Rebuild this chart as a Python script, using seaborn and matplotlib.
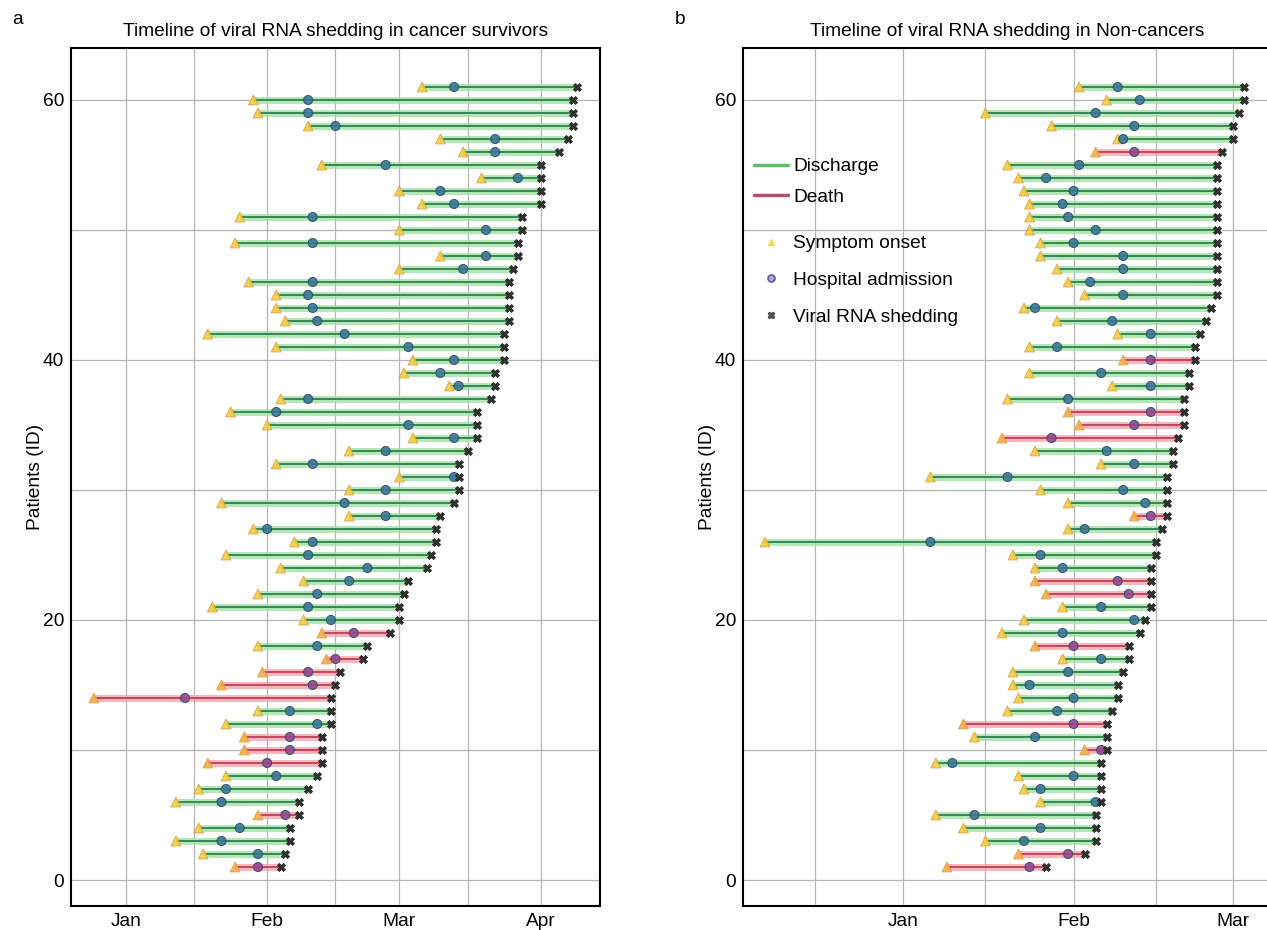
import matplotlib
matplotlib.use("Agg")
import matplotlib.pyplot as plt
import matplotlib.dates as mdates
from matplotlib import font_manager
from matplotlib.lines import Line2D
import seaborn as sns
import numpy as np
import pandas as pd

# Days counted from 2020-01-01 (negative = December 2019), patient IDs 1..61

# == Cancer survivors (panel a) ==
CANCER_ONSET = [24, 17, 11, 16, 29, 11, 16, 22, 18, 26, 26, 22, 29, -7, 21, 30, 44, 29, 43, 39,
                19, 29, 39, 34, 22, 37, 28, 49, 21, 49, 60, 33, 49, 63, 31, 23, 34, 71, 61, 63,
                33, 18, 35, 33, 33, 27, 60, 69, 24, 60, 25, 65, 60, 78, 43, 74, 69, 40, 29, 28, 65]
CANCER_ADMISSION = [29, 29, 21, 25, 35, 21, 22, 33, 31, 36, 36, 42, 36, 13, 41, 40, 46, 42, 50, 45,
                    40, 42, 49, 53, 40, 41, 31, 57, 48, 57, 72, 41, 57, 72, 62, 33, 40, 73, 69, 72,
                    62, 48, 42, 41, 40, 41, 74, 79, 41, 79, 41, 72, 69, 86, 57, 81, 81, 46, 40, 40, 72]
CANCER_SHEDDING = [34, 35, 36, 36, 38, 38, 40, 42, 43, 43, 43, 45, 45, 45, 46, 47, 52, 53, 58, 60,
                   60, 61, 62, 66, 67, 68, 68, 69, 72, 73, 73, 73, 75, 77, 77, 77, 80, 81, 81, 83,
                   83, 83, 84, 84, 84, 84, 85, 86, 86, 87, 87, 91, 91, 91, 91, 95, 97, 98, 98, 98, 99]
CANCER_DEATHS = [1, 5, 9, 10, 11, 14, 15, 16, 17, 19]

# == Non-cancers (panel b) ==
OTHER_ONSET = [8, 21, 15, 11, 6, 25, 22, 21, 6, 33, 13, 11, 19, 21, 20, 20, 29, 24, 18, 22,
               29, 26, 24, 24, 20, -25, 30, 42, 30, 25, 5, 36, 24, 18, 32, 30, 19, 38, 23, 40,
               23, 39, 28, 22, 33, 30, 28, 25, 25, 23, 23, 23, 22, 21, 19, 35, 39, 27, 15, 37, 32]
OTHER_ADMISSION = [23, 30, 22, 25, 13, 35, 25, 31, 9, 36, 24, 31, 28, 31, 23, 30, 36, 31, 29, 42,
                   36, 41, 39, 29, 25, 5, 33, 45, 44, 40, 19, 42, 37, 27, 42, 45, 30, 45, 36, 45,
                   28, 45, 38, 24, 40, 34, 40, 40, 31, 35, 30, 29, 31, 26, 32, 42, 40, 42, 35, 43, 39]
OTHER_SHEDDING = [26, 33, 35, 35, 35, 36, 36, 36, 36, 37, 37, 37, 38, 39, 39, 40, 41, 41, 43, 44,
                  45, 45, 45, 45, 46, 46, 47, 48, 48, 48, 48, 49, 49, 50, 51, 51, 51, 52, 52, 53,
                  53, 54, 55, 56, 57, 57, 57, 57, 57, 57, 57, 57, 57, 57, 57, 58, 60, 60, 61, 62, 62]
OTHER_DEATHS = [1, 2, 10, 12, 18, 22, 23, 28, 34, 35, 36, 40, 56]

TITLES = ["Timeline of viral RNA shedding in cancer survivors",
          "Timeline of viral RNA shedding in Non-cancers"]
PANEL_LABELS = ["a", "b"]
OUTCOMES = ["Discharge", "Death"]
MARKER_LABELS = ["Symptom onset", "Hospital admission", "Viral RNA shedding"]

BASE = pd.Timestamp("2020-01-01")

# colours
LIGHT = {"Discharge": "#9fe3a0", "Death": "#f4a6a8"}
DARK = {"Discharge": "#2f7d52", "Death": "#c23a5e"}
ONSET_COL = {"Discharge": "#f0cf45", "Death": "#f2ad4e"}
ADM_COL = {"Discharge": "#3b7896", "Death": "#97478f"}

sns.set_style("white")
names = {f.name for f in font_manager.fontManager.ttflist}
if "Liberation Sans Narrow" in names:
    FONT, FS = "Liberation Sans Narrow", 16.5
else:
    FONT, FS = "Liberation Sans", 13.8
plt.rcParams["font.family"] = [FONT, "DejaVu Sans"]
plt.rcParams.update({"text.color": "black", "axes.labelcolor": "black",
                     "xtick.color": "black", "ytick.color": "black"})
FS_PX = FS * 100 / 72


def make_frame(onset, admission, shedding, deaths):
    ids = np.arange(1, len(onset) + 1)
    return pd.DataFrame({
        "id": ids,
        "onset": BASE + pd.to_timedelta(onset, unit="D"),
        "admission": BASE + pd.to_timedelta(admission, unit="D"),
        "shedding": BASE + pd.to_timedelta(shedding, unit="D"),
        "outcome": ["Death" if i in deaths else "Discharge" for i in ids],
    })


def draw_panel(ax, df, title, xlim):
    sns.scatterplot(data=df, x="onset", y="id", hue="outcome", palette=ONSET_COL,
                    marker="^", s=50, edgecolor="#e3a23a", linewidth=0.7, alpha=0.9,
                    legend=False, ax=ax, zorder=4)
    sns.scatterplot(data=df, x="admission", y="id", hue="outcome", palette=ADM_COL,
                    marker="o", s=42, edgecolor="#2c4f6e", linewidth=0.8, alpha=0.9,
                    legend=False, ax=ax, zorder=5)
    sns.scatterplot(data=df, x="shedding", y="id", color="#303030", marker="X", s=36,
                    edgecolor="#202020", linewidth=0.4, legend=False, ax=ax, zorder=6)
    for outcome in OUTCOMES:
        sub = df[df.outcome == outcome]
        x0 = mdates.date2num(sub.onset)
        x1 = mdates.date2num(sub.shedding)
        ax.hlines(sub.id, x0, x1, colors=LIGHT[outcome], lw=5, alpha=0.8, zorder=2)
        ax.hlines(sub.id, x0, x1, colors=DARK[outcome], lw=1.3, zorder=3)

    ax.set_xlim(pd.Timestamp(xlim[0]), pd.Timestamp(xlim[1]))
    ax.set_ylim(-2, 64)
    ax.xaxis.set_major_locator(mdates.MonthLocator())
    ax.xaxis.set_major_formatter(mdates.DateFormatter("%b"))
    ax.xaxis.set_minor_locator(mdates.MonthLocator(bymonthday=16))
    ax.set_yticks([0, 20, 40, 60])
    ax.set_yticks([10, 30, 50], minor=True)
    ax.set_axisbelow(True)
    ax.grid(True, which="both", color="#b4b4b4", lw=0.9)
    ax.tick_params(which="major", direction="in", length=6, width=1.3,
                   labelsize=FS, pad=5)
    ax.tick_params(which="minor", length=0)
    for sp in ax.spines.values():
        sp.set_color("black")
        sp.set_linewidth(1.5)
    ax.set_xlabel("")
    ax.set_ylabel("Patients (ID)", fontsize=FS, labelpad=-1)
    ax.set_title(title, fontsize=FS, pad=9)


fig = plt.figure(figsize=(12.67, 9.3), dpi=100)
ax1 = fig.add_axes([71 / 1267, 24 / 930, 529 / 1267, 858 / 930])
ax2 = fig.add_axes([743 / 1267, 24 / 930, 529 / 1267, 858 / 930])

cancer = make_frame(CANCER_ONSET, CANCER_ADMISSION, CANCER_SHEDDING, CANCER_DEATHS)
other = make_frame(OTHER_ONSET, OTHER_ADMISSION, OTHER_SHEDDING, OTHER_DEATHS)

draw_panel(ax1, cancer, TITLES[0], ("2019-12-20", "2020-04-14"))
draw_panel(ax2, other, TITLES[1], ("2019-12-03", "2020-03-08"))

fig.text(12 / 1267, 1 - 19 / 930, PANEL_LABELS[0], fontsize=FS, va="center")
fig.text(675 / 1267, 1 - 19 / 930, PANEL_LABELS[1], fontsize=FS, va="center")

# Legend: outcome lines, then the three event markers
line_handles = [Line2D([], [], color="#5cbf6c", lw=2.5),
                Line2D([], [], color="#b3506e", lw=2.5)]
leg1 = ax2.legend(line_handles, OUTCOMES, loc="upper left",
                  bbox_to_anchor=(754 / 1267, 1 - 158 / 930), bbox_transform=fig.transFigure,
                  frameon=False, fontsize=FS, handlelength=1.75, handletextpad=0.3,
                  labelspacing=max(33 / FS_PX - 1.05, 0.1), borderpad=0, borderaxespad=0)
ax2.add_artist(leg1)
marker_handles = [Line2D([], [], ls="", marker="^", ms=5, color="#f0cf45", alpha=0.8),
                  Line2D([], [], ls="", marker="o", ms=5, mfc="#b0a8d8", mec="#5f58a0", mew=1.2),
                  Line2D([], [], ls="", marker="X", ms=5, color="#505050")]
ax2.legend(marker_handles, MARKER_LABELS, loc="upper left",
           bbox_to_anchor=(754 / 1267, 1 - 235 / 930), bbox_transform=fig.transFigure,
           frameon=False, fontsize=FS, handlelength=1.75, handletextpad=0.3,
           labelspacing=max(39.5 / FS_PX - 1.05, 0.1), borderpad=0, borderaxespad=0)

fig.savefig("out.png", dpi=100)
